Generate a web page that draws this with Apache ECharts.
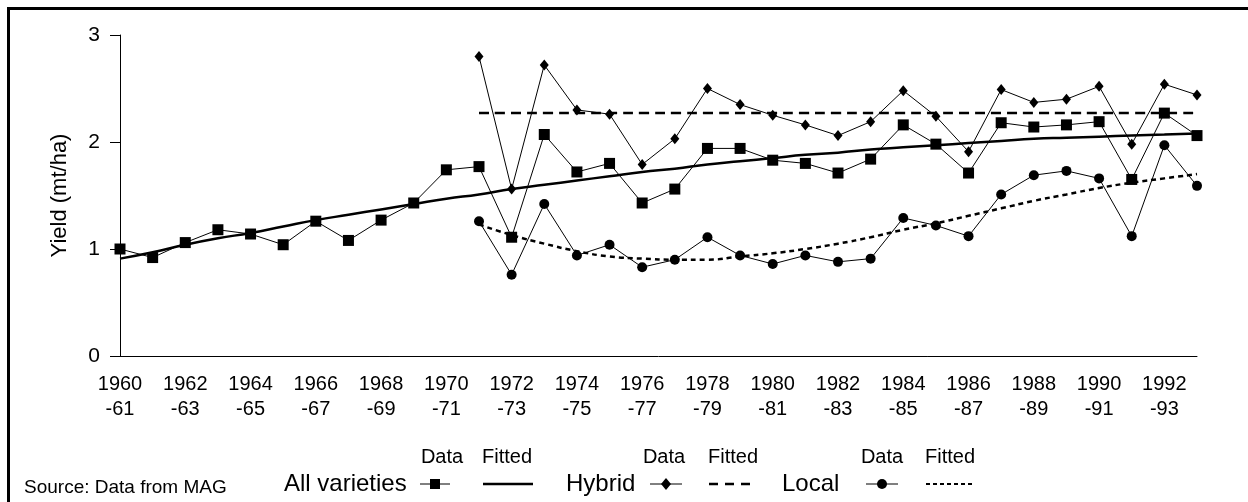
<!DOCTYPE html>
<html>
<head>
<meta charset="utf-8">
<script src="https://cdn.jsdelivr.net/npm/echarts@6/dist/echarts.min.js"></script>
<style>
html, body { margin: 0; padding: 0; background: #fff; }
#chart { width: 1248px; height: 502px; }
</style>
</head>
<body>
<div id="chart"></div>
<script>
const seasons = [
    '1960\n-61', '1961\n-62', '1962\n-63', '1963\n-64', '1964\n-65', '1965\n-66',
    '1966\n-67', '1967\n-68', '1968\n-69', '1969\n-70', '1970\n-71', '1971\n-72',
    '1972\n-73', '1973\n-74', '1974\n-75', '1975\n-76', '1976\n-77', '1977\n-78',
    '1978\n-79', '1979\n-80', '1980\n-81', '1981\n-82', '1982\n-83', '1983\n-84',
    '1984\n-85', '1985\n-86', '1986\n-87', '1987\n-88', '1988\n-89', '1989\n-90',
    '1990\n-91', '1991\n-92', '1992\n-93', '1993\n-94'
]

// All varieties
const allData = [
    1.00, 0.92, 1.06, 1.18, 1.14, 1.04, 1.26, 1.08, 1.27, 1.43, 1.74, 1.77,
    1.11, 2.07, 1.72, 1.80, 1.43, 1.56, 1.94, 1.94, 1.83, 1.80, 1.71, 1.84,
    2.16, 1.98, 1.71, 2.18, 2.14, 2.16, 2.19, 1.65, 2.27, 2.06
]
const allFitted = [
    0.91, 0.97, 1.04, 1.10, 1.15, 1.21, 1.27, 1.32, 1.37, 1.42, 1.47, 1.51,
    1.56, 1.60, 1.64, 1.68, 1.72, 1.75, 1.79, 1.82, 1.85, 1.88, 1.90, 1.93,
    1.95, 1.97, 1.99, 2.01, 2.03, 2.04, 2.05, 2.06, 2.07, 2.08
]

// Hybrid (from 1971-72)
const hybridData = [
    null, null, null, null, null, null, null, null, null, null, null,
    2.80, 1.56, 2.72, 2.30, 2.26, 1.79, 2.03, 2.50, 2.35, 2.25, 2.16, 2.06,
    2.19, 2.48, 2.24, 1.91, 2.49, 2.37, 2.40, 2.52, 1.98, 2.54, 2.44
]
const hybridFitted = [
    null, null, null, null, null, null, null, null, null, null, null,
    2.27, 2.27, 2.27, 2.27, 2.27, 2.27, 2.27, 2.27, 2.27, 2.27, 2.27, 2.27,
    2.27, 2.27, 2.27, 2.27, 2.27, 2.27, 2.27, 2.27, 2.27, 2.27, 2.27
]

// Local (from 1971-72)
const localData = [
    null, null, null, null, null, null, null, null, null, null, null,
    1.26, 0.76, 1.42, 0.94, 1.04, 0.83, 0.90, 1.11, 0.94, 0.86, 0.94, 0.88,
    0.91, 1.29, 1.22, 1.12, 1.51, 1.69, 1.73, 1.66, 1.12, 1.97, 1.59
]
const localFitted = [
    null, null, null, null, null, null, null, null, null, null, null,
    1.23, 1.13, 1.05, 0.98, 0.93, 0.91, 0.90, 0.90, 0.93, 0.96, 1.00, 1.05,
    1.11, 1.18, 1.24, 1.31, 1.38, 1.45, 1.51, 1.57, 1.62, 1.66, 1.70
]

const yTicks = [0, 1, 2, 3]

let myChart = echarts.init(document.getElementById('chart'))
const font = 'Liberation Sans, Arial, sans-serif'

const dataLine = (name, values, symbol, size) => ({
    name: name,
    type: 'line',
    data: values,
    symbol: symbol,
    symbolSize: size,
    showAllSymbol: true,
    connectNulls: false,
    lineStyle: { color: '#000', width: 1 },
    itemStyle: { color: '#000' },
    z: 3
})
const fitLine = (name, values, dash, width) => ({
    name: name,
    type: 'line',
    data: values,
    symbol: 'none',
    smooth: true,
    lineStyle: { color: '#000', width: width, type: dash },
    z: 2
})

// legend drawn by hand (header row: Data / Fitted)
const legendY = 484
const headY = 457
const txt = (x, y, s, size, align) => ({
    type: 'text', x: x, y: y,
    style: { text: s, font: size + 'px ' + font, fill: '#000', align: align || 'left', verticalAlign: 'middle' }
})
const seg = (x1, x2, y, w, dash) => ({
    type: 'line',
    shape: { x1: x1, y1: y, x2: x2, y2: y },
    style: { stroke: '#000', lineWidth: w, lineDash: dash || null }
})

const options = {
    animation: false,
    grid: { left: 120, right: 51, top: 35, bottom: 146, containLabel: false },
    xAxis: {
        type: 'category',
        data: seasons,
        boundaryGap: false,
        axisLine: { lineStyle: { color: '#000', width: 1 } },
        axisTick: { show: false },
        axisLabel: {
            interval: 1, color: '#000', fontSize: 20, fontFamily: font,
            margin: 16, lineHeight: 25
        }
    },
    yAxis: {
        type: 'value',
        min: yTicks[0],
        max: yTicks[yTicks.length - 1],
        interval: 1,
        name: 'Yield (mt/ha)',
        nameLocation: 'middle',
        nameGap: 49,
        nameTextStyle: { color: '#000', fontSize: 22, fontFamily: font },
        splitLine: { show: false },
        axisLine: { show: true, lineStyle: { color: '#000', width: 1 } },
        axisTick: { show: true, length: 10, lineStyle: { color: '#000' } },
        axisLabel: { color: '#000', fontSize: 21, fontFamily: font, margin: 20 }
    },
    series: [
        fitLine('All varieties fitted', allFitted, 'solid', 2.5),
        fitLine('Hybrid fitted', hybridFitted, [10, 6], 2.5),
        fitLine('Local fitted', localFitted, [5, 4], 2.5),
        dataLine('All varieties', allData, 'rect', 11),
        dataLine('Hybrid', hybridData, 'diamond', [9, 11]),
        dataLine('Local', localData, 'circle', 10)
    ],
    graphic: [
        {
            type: 'rect',
            shape: { x: 8.5, y: 8.5, width: 1260, height: 520 },
            style: { fill: 'none', stroke: '#000', lineWidth: 3 }
        },
        txt(24, 488, 'Source: Data from MAG', 19),
        txt(284, legendY, 'All varieties', 24),
        seg(420, 450, legendY, 1),
        { type: 'rect', shape: { x: 430, y: legendY - 5, width: 10, height: 10 }, style: { fill: '#000' } },
        txt(442, headY, 'Data', 20, 'center'),
        txt(507, headY, 'Fitted', 20, 'center'),
        seg(483, 533, legendY, 2.5),
        txt(566, legendY, 'Hybrid', 24),
        seg(650, 682, legendY, 1),
        { type: 'polygon', shape: { points: [[666, legendY - 6], [671, legendY], [666, legendY + 6], [661, legendY]] }, style: { fill: '#000' } },
        txt(664, headY, 'Data', 20, 'center'),
        txt(733, headY, 'Fitted', 20, 'center'),
        seg(709, 757, legendY, 2.5, [9, 7]),
        txt(782, legendY, 'Local', 24),
        seg(866, 898, legendY, 1),
        { type: 'circle', shape: { cx: 882, cy: legendY, r: 5 }, style: { fill: '#000' } },
        txt(882, headY, 'Data', 20, 'center'),
        txt(950, headY, 'Fitted', 20, 'center'),
        seg(926, 975, legendY, 2, [4, 3])
    ]
}
myChart.setOption(options)
</script>
</body>
</html>
